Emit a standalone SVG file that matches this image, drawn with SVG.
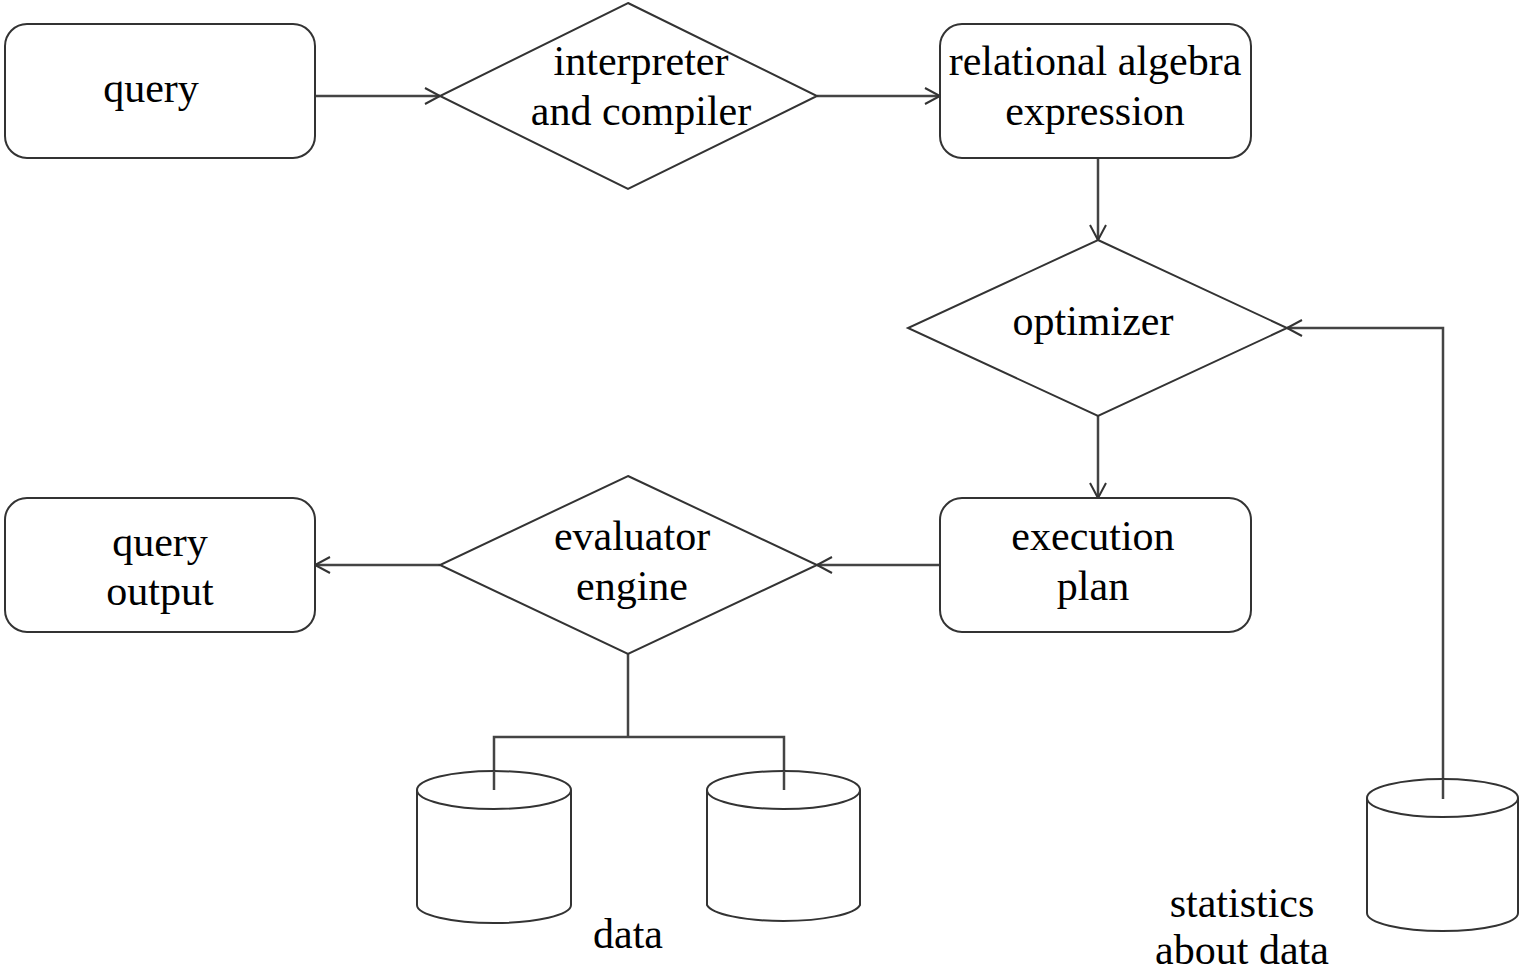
<svg xmlns="http://www.w3.org/2000/svg" width="1519" height="972" viewBox="0 0 1519 972">
<defs>
<style>
.shape{fill:#fff;stroke:#333;stroke-width:2}
.conn{fill:none;stroke:#444;stroke-width:2.5}
text{font-family:"Liberation Serif","Times New Roman",serif;font-size:42px;fill:#000;text-anchor:middle}
</style>
<marker id="arr" markerWidth="20" markerHeight="20" refX="16" refY="9" orient="auto" markerUnits="userSpaceOnUse">
<path d="M1,1 L16,9 L1,17" fill="none" stroke="#333" stroke-width="2"/>
</marker>
</defs>
<rect width="1519" height="972" fill="#fff"/>
<g id="connectors">
<line class="conn" x1="315" y1="96" x2="440" y2="96" marker-end="url(#arr)"/>
<line class="conn" x1="817" y1="96" x2="940" y2="96" marker-end="url(#arr)"/>
<line class="conn" x1="1098" y1="158" x2="1098" y2="240" marker-end="url(#arr)"/>
<line class="conn" x1="1098" y1="416" x2="1098" y2="498" marker-end="url(#arr)"/>
<line class="conn" x1="940" y1="565" x2="817" y2="565" marker-end="url(#arr)"/>
<line class="conn" x1="440" y1="565" x2="315" y2="565" marker-end="url(#arr)"/>
<polyline class="conn" points="1443,799 1443,328 1287,328" marker-end="url(#arr)"/>
<polyline class="conn" points="628,654 628,737"/>
<polyline class="conn" points="494,790 494,737 784,737 784,790"/>
</g>
<g id="query">
<rect class="shape" x="5" y="24" width="310" height="134" rx="22"/>
<text x="151" y="102">query</text>
</g>
<g id="interpreter">
<polygon class="shape" points="628,3 817,96 628,189 440,96"/>
<text x="641" y="75">interpreter</text>
<text x="641" y="125">and compiler</text>
</g>
<g id="relational">
<rect class="shape" x="940" y="24" width="311" height="134" rx="22"/>
<text x="1095" y="75">relational algebra</text>
<text x="1095" y="125">expression</text>
</g>
<g id="optimizer">
<polygon class="shape" points="1098,240 1287,328 1098,416 908,328"/>
<text x="1093" y="335">optimizer</text>
</g>
<g id="execution">
<rect class="shape" x="940" y="498" width="311" height="134" rx="22"/>
<text x="1093" y="550">execution</text>
<text x="1093" y="600">plan</text>
</g>
<g id="evaluator">
<polygon class="shape" points="628,476 817,565 628,654 440,565"/>
<text x="632" y="550">evaluator</text>
<text x="632" y="600">engine</text>
</g>
<g id="output">
<rect class="shape" x="5" y="498" width="310" height="134" rx="22"/>
<text x="160" y="556">query</text>
<text x="160" y="605">output</text>
</g>
<g id="data1">
<path class="shape" d="M417,790 L417,905 A77,18 0 0 0 571,905 L571,790"/>
<ellipse class="shape" cx="494" cy="790" rx="77" ry="19"/>
<line class="conn" x1="494" y1="771" x2="494" y2="790"/>
</g>
<g id="data2">
<path class="shape" d="M707,790 L707,905 A77,18 0 0 0 860,905 L860,790"/>
<ellipse class="shape" cx="783.5" cy="790" rx="76.5" ry="19"/>
<line class="conn" x1="784" y1="771" x2="784" y2="790"/>
</g>
<text x="628" y="948">data</text>
<g id="stats">
<path class="shape" d="M1367,798 L1367,913 A75.5,18 0 0 0 1518,913 L1518,798"/>
<ellipse class="shape" cx="1442.5" cy="798" rx="75.5" ry="19"/>
<line class="conn" x1="1443" y1="779" x2="1443" y2="799"/>
<text x="1242" y="917">statistics</text>
<text x="1242" y="964">about data</text>
</g>
</svg>
